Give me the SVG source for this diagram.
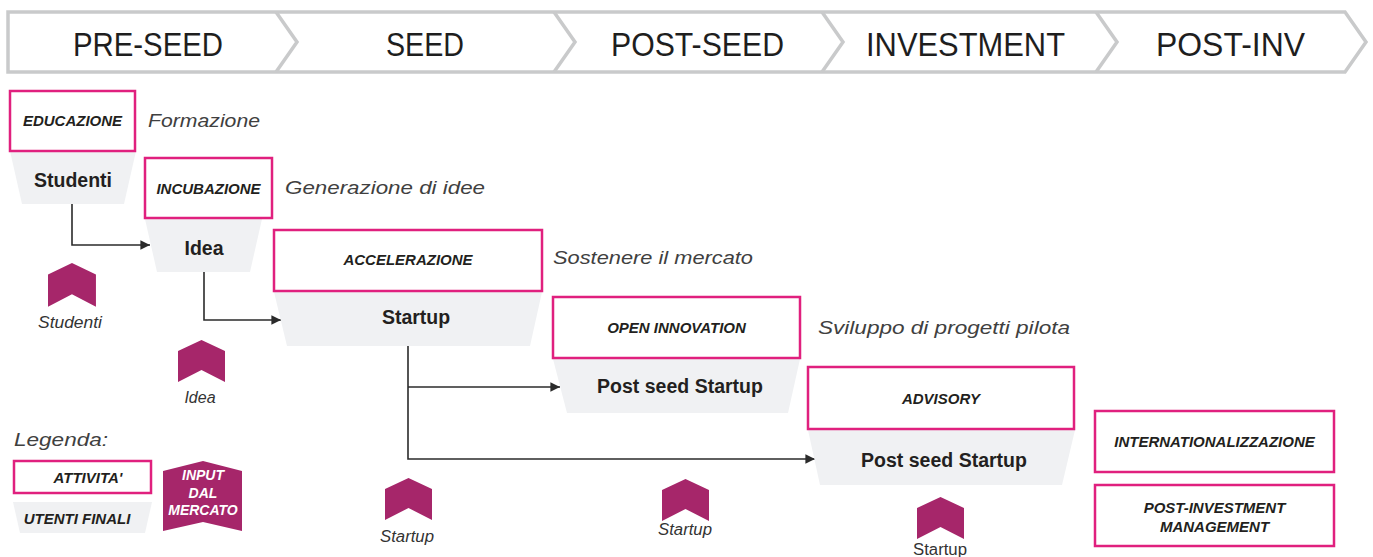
<svg xmlns="http://www.w3.org/2000/svg" width="1373" height="557" viewBox="0 0 1373 557">
<style>
.hdr{fill:#fff;stroke:#c9cacb;stroke-width:3.5;stroke-linejoin:miter}
.div{fill:none;stroke:#c9cacb;stroke-width:3.5}
.ht{font-family:"Liberation Sans",Arial,sans-serif;font-size:34px;fill:#1e1e1e;text-anchor:middle}
.box{fill:#fff;stroke:#e0207e;stroke-width:2.5}
.trap{fill:#f0f1f3}
.bl{font-family:"Liberation Sans",Arial,sans-serif;font-size:15px;font-weight:bold;font-style:italic;fill:#231f20;text-anchor:middle}
.ul{font-family:"Liberation Sans",Arial,sans-serif;font-size:19.5px;font-weight:bold;fill:#231f20;text-anchor:middle}
.desc{font-family:"Liberation Sans",Arial,sans-serif;font-size:19px;font-style:italic;fill:#404040}
.mk{fill:#a6266a}
.ml{font-family:"Liberation Sans",Arial,sans-serif;font-size:16px;font-style:italic;fill:#333;text-anchor:middle}
.wl{font-family:"Liberation Sans",Arial,sans-serif;font-size:14px;font-weight:bold;font-style:italic;fill:#fff;text-anchor:middle}
.con{fill:none;stroke:#2b2b2b;stroke-width:1.6}
</style>
<defs>
<marker id="arr" viewBox="0 0 10 10" refX="10" refY="5" markerWidth="6" markerHeight="6" markerUnits="strokeWidth" orient="auto">
<path d="M0,0 L10,5 L0,10 Z" fill="#2b2b2b"/>
</marker>
<path id="mkt" d="M0,11 L23.5,0 L47,11 L47,42 L23.5,30 L0,42 Z"/>
</defs>

<g id="header">
<polygon class="hdr" points="8,12 1345,12 1366,42 1345,72 8,72"/>
<polyline class="div" points="276,12 297,42 276,72"/>
<polyline class="div" points="554,12 575,42 554,72"/>
<polyline class="div" points="822,12 843,42 822,72"/>
<polyline class="div" points="1096,12 1117,42 1096,72"/>
<text class="ht" x="148" y="56" textLength="150" lengthAdjust="spacingAndGlyphs">PRE-SEED</text>
<text class="ht" x="425" y="56" textLength="78" lengthAdjust="spacingAndGlyphs">SEED</text>
<text class="ht" x="697.5" y="56" textLength="173" lengthAdjust="spacingAndGlyphs">POST-SEED</text>
<text class="ht" x="965.5" y="56" textLength="199" lengthAdjust="spacingAndGlyphs">INVESTMENT</text>
<text class="ht" x="1230.5" y="56" textLength="149" lengthAdjust="spacingAndGlyphs">POST-INV</text>
</g>

<g id="connectors">
<polyline class="con" points="72,204 72,245 150,245" marker-end="url(#arr)"/>
<polyline class="con" points="204,272 204,320 281,320" marker-end="url(#arr)"/>
<polyline class="con" points="408,345 408,459 815,459" marker-end="url(#arr)"/>
<polyline class="con" points="408,387 560,387" marker-end="url(#arr)"/>
</g>

<g id="educazione">
<polygon class="trap" points="10,151 136,151 124,204 22,204"/>
<rect class="box" x="10" y="91" width="125" height="60"/>
<text class="bl" x="72.5" y="126">EDUCAZIONE</text>
<text class="desc" x="148" y="127" textLength="112" lengthAdjust="spacingAndGlyphs">Formazione</text>
<text class="ul" x="73" y="187">Studenti</text>
</g>

<g id="incubazione">
<polygon class="trap" points="145,219 262,219 250,272 157,272"/>
<rect class="box" x="145" y="158" width="127" height="60"/>
<text class="bl" x="208.5" y="194">INCUBAZIONE</text>
<text class="desc" x="285" y="194" textLength="200" lengthAdjust="spacingAndGlyphs">Generazione di idee</text>
<text class="ul" x="204" y="255">Idea</text>
</g>

<g id="accelerazione">
<polygon class="trap" points="274,292 542,292 530,346 287,346"/>
<rect class="box" x="274" y="230" width="268" height="61"/>
<text class="bl" x="408" y="265">ACCELERAZIONE</text>
<text class="desc" x="553" y="264" textLength="200" lengthAdjust="spacingAndGlyphs">Sostenere il mercato</text>
<text class="ul" x="416" y="324">Startup</text>
</g>

<g id="open-innovation">
<polygon class="trap" points="553,359 800,359 788,413 567,413"/>
<rect class="box" x="553" y="297" width="247" height="61"/>
<text class="bl" x="676.5" y="333">OPEN INNOVATION</text>
<text class="desc" x="818" y="334" textLength="252" lengthAdjust="spacingAndGlyphs">Sviluppo di progetti pilota</text>
<text class="ul" x="680" y="393">Post seed Startup</text>
</g>

<g id="advisory">
<polygon class="trap" points="808,430 1075,430 1062,485 820,485"/>
<rect class="box" x="808" y="367" width="266" height="62"/>
<text class="bl" x="941" y="404">ADVISORY</text>
<text class="ul" x="944" y="467">Post seed Startup</text>
</g>

<g id="internazionalizzazione">
<rect class="box" x="1095" y="411" width="239" height="61"/>
<text class="bl" x="1214.5" y="447">INTERNATIONALIZZAZIONE</text>
</g>

<g id="post-investment">
<rect class="box" x="1095" y="485" width="239" height="61"/>
<text class="bl" x="1214.5" y="513">POST-INVESTMENT</text>
<text class="bl" x="1214.5" y="532">MANAGEMENT</text>
</g>

<g id="input-studenti">
<use href="#mkt" class="mk" transform="translate(48,263) scale(1.02,1.04)"/>
<text class="ml" x="70" y="328" textLength="64" lengthAdjust="spacingAndGlyphs">Studenti</text>
</g>
<g id="input-idea">
<use href="#mkt" class="mk" transform="translate(178,340)"/>
<text class="ml" x="200" y="403">Idea</text>
</g>
<g id="input-startup-1">
<use href="#mkt" class="mk" transform="translate(385,478)"/>
<text class="ml" x="407" y="542" textLength="54" lengthAdjust="spacingAndGlyphs">Startup</text>
</g>
<g id="input-startup-2">
<use href="#mkt" class="mk" transform="translate(662,479)"/>
<text class="ml" x="685" y="535" textLength="54" lengthAdjust="spacingAndGlyphs">Startup</text>
</g>
<g id="input-startup-3">
<use href="#mkt" class="mk" transform="translate(917,497)"/>
<text class="ml" x="940" y="555" textLength="54" lengthAdjust="spacingAndGlyphs" style="font-style:normal">Startup</text>
</g>

<g id="legenda">
<text class="desc" x="14" y="446" textLength="94" lengthAdjust="spacingAndGlyphs">Legenda:</text>
<rect class="box" x="14" y="461" width="137" height="32"/>
<text class="bl" x="88" y="483">ATTIVITA'</text>
<polygon class="trap" points="13,502 152,502 145,533 20,533"/>
<text class="bl" x="77" y="524">UTENTI FINALI</text>
<polygon class="mk" points="163,471 203,461 242,471 242,531 203,522 163,531"/>
<text class="wl" x="203" y="480">INPUT</text>
<text class="wl" x="203" y="498">DAL</text>
<text class="wl" x="203" y="515">MERCATO</text>
</g>
</svg>
